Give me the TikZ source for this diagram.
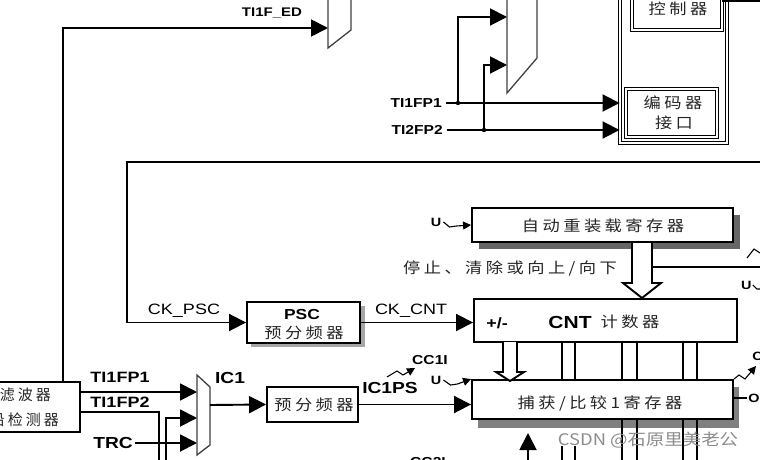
\documentclass[tikz,border=0pt]{standalone}
\usepackage{fontspec}
\setmainfont{Liberation Sans}
\newfontfamily\cjk[LetterSpace=20]{Noto Sans CJK SC}
\newfontfamily\wmfont{Noto Sans CJK SC}
\usetikzlibrary{arrows.meta}
\begin{document}
\begin{tikzpicture}[x=1pt,y=-1pt,
  ln/.style={line width=1.9pt},
  arr/.style={line width=1.9pt,-{Triangle[length=17pt,width=17pt]}},
  sarr/.style={line width=1.1pt,-{Triangle[length=8pt,width=8pt]}},
  thinl/.style={line width=1.1pt},
  mux/.style={line width=1.3pt, draw=black!75},
  box/.style={draw, line width=1.9pt, fill=white, inner sep=0pt},
  dbox/.style={draw, double, line width=0.9pt, double distance=1.5pt, fill=white, inner sep=0pt},
  lb/.style={font=\bfseries\fontsize{#1}{#1}\selectfont, xscale=1.2, inner sep=0pt},
  lr/.style={font=\fontsize{#1}{#1}\selectfont, xscale=1.2, inner sep=0pt},
  cnf/.style={font=\cjk\fontsize{15}{17}\selectfont, text=black!85, inner sep=0pt},
  cn/.style={cnf, xscale=1.15},
]
\useasboundingbox (0,0) rectangle (760,460);
\clip (0,0) rectangle (760,460);

% ---------- top area ----------
\draw[mux] (328,-5) -- (328,48) -- (351,30) -- (351,-5);
\draw[mux] (507,-5) -- (507,93) -- (537,58) -- (537,-5);
\coordinate (m1in) at (328,28);
\coordinate (m2in1) at (507,17);
\coordinate (m2in2) at (507,65);

\node[dbox, minimum width=107pt, minimum height=163pt] (tbox) at (673.5,61.5) {};
\node[dbox, minimum width=90pt, minimum height=40pt] (ctrl) at (677,10) {};
\node[cn] at (678,9) {控制器};
\node[dbox, minimum width=91pt, minimum height=48pt] (encif) at (671.5,113) {};
\node[cn] at (673,103) {编码器};
\node[cn] at (674,123) {接口};
\coordinate (tr) at (760,1);
\draw[ln] (ctrl.east |- tr) -- (tr);

\node[lb=13, anchor=east] (t1) at (442,103) {TI1FP1};
\node[lb=13, anchor=east] (t2) at (443,130) {TI2FP2};
\coordinate (j1) at (458,103);
\coordinate (j2) at (484,130);
\draw[arr] ([xshift=4pt]t1.east) -- (tbox.west |- t1.east);
\draw[arr] ([xshift=4pt]t2.east) -- (tbox.west |- t2.east);
\draw[arr] (j1) |- (m2in1);
\draw[arr] (j2) |- (m2in2);
\fill (j1) circle (2.2pt);
\fill (j2) circle (2.2pt);

\node[lb=12.5] (ted) at (272,13) {TI1F\_ED};

% ---------- filter box and TI1F_ED ----------
\node[box, minimum width=100pt, minimum height=50pt] (filt) at (30,407) {};
\node[cnf, anchor=east] at (51,395) {输入滤波器};
\node[cnf, anchor=east] at (59,420) {边沿检测器};
\coordinate (fx) at (63,0);
\draw[arr] (filt.north -| fx) |- (m1in);

% ---------- feedback & PSC ----------
\coordinate (fbR) at (760,162);
\coordinate (fbL) at (127,162);
\fill[black!35] (251,306) rectangle (365,347);
\node[box, minimum width=113pt, minimum height=41pt] (psc) at (303.5,322.5) {};
\node[lb=14.5] at (302,315) {PSC};
\node[cn] at (304,333) {预分频器};
\draw[arr] (fbR) -- (fbL) |- (psc.west);
\node[lr=15] at (184,311) {CK\_PSC};
\node[lr=15] at (411,311) {CK\_CNT};

% ---------- reload register ----------
\fill[black!60] (479,215) rectangle (740,249);
\node[box, minimum width=261pt, minimum height=34pt] (reload) at (602.5,225) {};
\node[cn] at (603,226) {自动重装载寄存器};
\node[lb=12] (u1) at (436,222) {U};
\draw[sarr] ([xshift=2pt]u1.east) -- ++(6,5) -- ++(7,-1) -- (reload.west);
\node[cn] at (510,268) {停止、清除或向上/向下};
\draw[ln, fill=white] (632,243) -- (632,283) -- (623,283) -- (642,298) -- (661,283) -- (652,283) -- (652,243);
\draw[ln] (652,267) -- (760,267);
\node[lb=12, anchor=west] (u3) at (741,285) {U};
\draw[thinl] ([xshift=1pt]u3.east) -- ++(4,4) -- (760,289);
\draw[thinl] (747,258) -- (754,249) -- (760,253);

% ---------- CNT ----------
\node[box, minimum width=263pt, minimum height=43pt] (cnt) at (605.5,320.5) {};
\draw[arr] (psc.east) -- (cnt.west |- psc.east);
\node[lb=15] at (497,323) {+/-};
\node[lb=17.5] at (570,322) {CNT};
\node[cn] at (630,322) {计数器};

% ---------- capture/compare ----------
\fill[black!50] (478,387) rectangle (739,428);
\node[box, minimum width=261pt, minimum height=39pt] (cc) at (602.5,399.5) {};
\node[cn] at (600,403) {捕获/比较1寄存器};
\draw[ln, fill=white] (503,342) -- (503,372) -- (496,372) -- (510,381) -- (524,372) -- (517,372) -- (517,342);
\foreach \x in {562,575,622,637,683,697} \draw[ln] (\x,342) -- (\x,380);
\foreach \x in {622,637,683,697} \draw[ln] (\x,419) -- (\x,461);
\foreach \x in {562,575} \draw[ln] (\x,446) -- (\x,461);
\draw[arr] (528,461) -- (528,433);

\coordinate (o1) at (747,398);
\draw[ln] (cc.east |- o1) -- (o1);
\node[lb=12, anchor=west] at (748,398) {O};
\draw[sarr] (cc.north east) -- (739,375) -- (745,379) -- (756,366);
\node[lb=12, anchor=west] at (752,356) {C};

% ---------- IC1 path ----------
\draw[mux, fill=white] (197,375) -- (210,387) -- (210,445) -- (197,455) -- cycle;
\coordinate (mi1) at (197,392);
\coordinate (mi2) at (197,418);
\coordinate (mi3) at (197,443);
\coordinate (muxo) at (210,405);
\node[box, minimum width=91pt, minimum height=35pt] (icp) at (312.5,404.5) {};
\node[cn] at (314,405) {预分频器};
\draw[arr] (muxo) -- (icp.west);
\draw[arr] (icp.east) -- (cc.west |- icp.east);
\node[lb=16] at (230,378) {IC1};
\node[lb=16] (ic1ps) at (390,388) {IC1PS};
\node[lb=13] (cc1i) at (430,360) {CC1I};
\node[lb=12] (u2) at (436,380) {U};
\draw[sarr] (387,377) -- (397,371) -- (403,375) -- (415,368);
\draw[sarr] ([xshift=2pt]u2.east) -- ++(7,5) -- ++(7,-1) -- (cc.north west);
\node[lb=13] at (428,462) {CC2I};

\node[lb=15] (tf1) at (120,377) {TI1FP1};
\node[lb=15] (tf2) at (120,402) {TI1FP2};
\node[lb=16] (trc) at (113,443) {TRC};
\coordinate (fo1) at (80,392);
\coordinate (fo2) at (80,412);
\coordinate (bot1) at (159,461);
\coordinate (bot2) at (166,461);
\draw[arr] (fo1) -- (mi1);
\draw[ln] (fo2) -| (bot1);
\draw[arr] (bot2) |- (mi2);
\draw[arr] ([xshift=2pt]trc.east) -- (mi3);

% ---------- watermark ----------
\node[font=\wmfont\fontsize{16}{16}\selectfont, text=black!45, xscale=1.15, inner sep=0pt] at (648,440) {CSDN @石原里美老公};
\end{tikzpicture}
\end{document}
